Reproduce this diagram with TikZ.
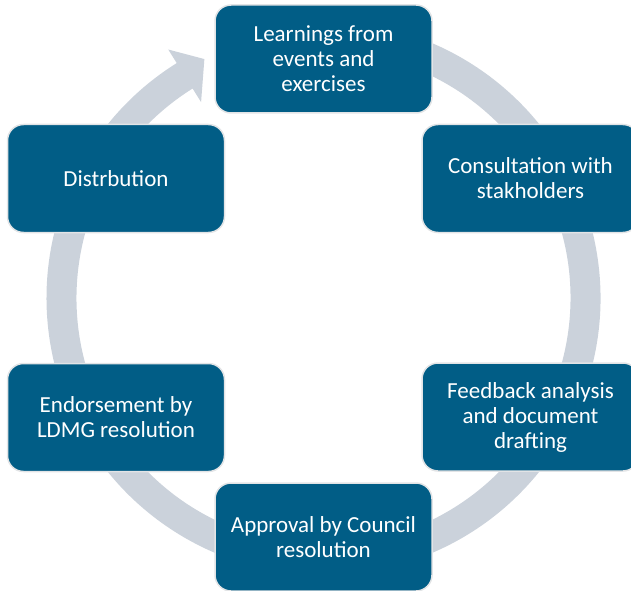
\documentclass[tikz,border=0pt]{standalone}
\usepackage{fontspec}
\setmainfont{Carlito}
\usetikzlibrary{calc}
\definecolor{boxblue}{RGB}{1,93,134}
\definecolor{ringgray}{RGB}{203,210,219}
\definecolor{edgegray}{RGB}{226,228,230}
\tikzset{
  stepbox/.style={rectangle, rounded corners=16pt, fill=boxblue, draw=edgegray,
    line width=1.5pt, minimum width=217pt, minimum height=108pt, inner sep=0pt,
    align=center, text=white, font=\fontsize{23}{25}\selectfont},
  ring/.style={fill=ringgray}
}
\begin{document}
\begin{tikzpicture}[x=1pt,y=1pt]
\useasboundingbox (0,0) rectangle (631,590);
\coordinate (C) at (323.5,292);
\fill[ring] ($(C)+(100:277)$) arc (100:-238:277)
  -- ($(C)+(122:293)$) -- ($(C)+(116.5:267)$) -- ($(C)+(122:231)$)
  -- ($(C)+(122:247)$) arc (-238:100:247) -- cycle;
\node[stepbox] (learn) at (323.5,531) {Learnings from\\events and\\exercises};
\node[stepbox] (consult) at (530.5,411.5) {Consultation with\\stakholders};
\node[stepbox] (feedback) at (530.5,173) {Feedback analysis\\and document\\drafting};
\node[stepbox] (approval) at (323.5,53) {Approval by Council\\resolution};
\node[stepbox] (endorse) at (116,172.5) {Endorsement by\\LDMG resolution};
\node[stepbox] (distr) at (116,411.5) {Distrbution};
\end{tikzpicture}
\end{document}
